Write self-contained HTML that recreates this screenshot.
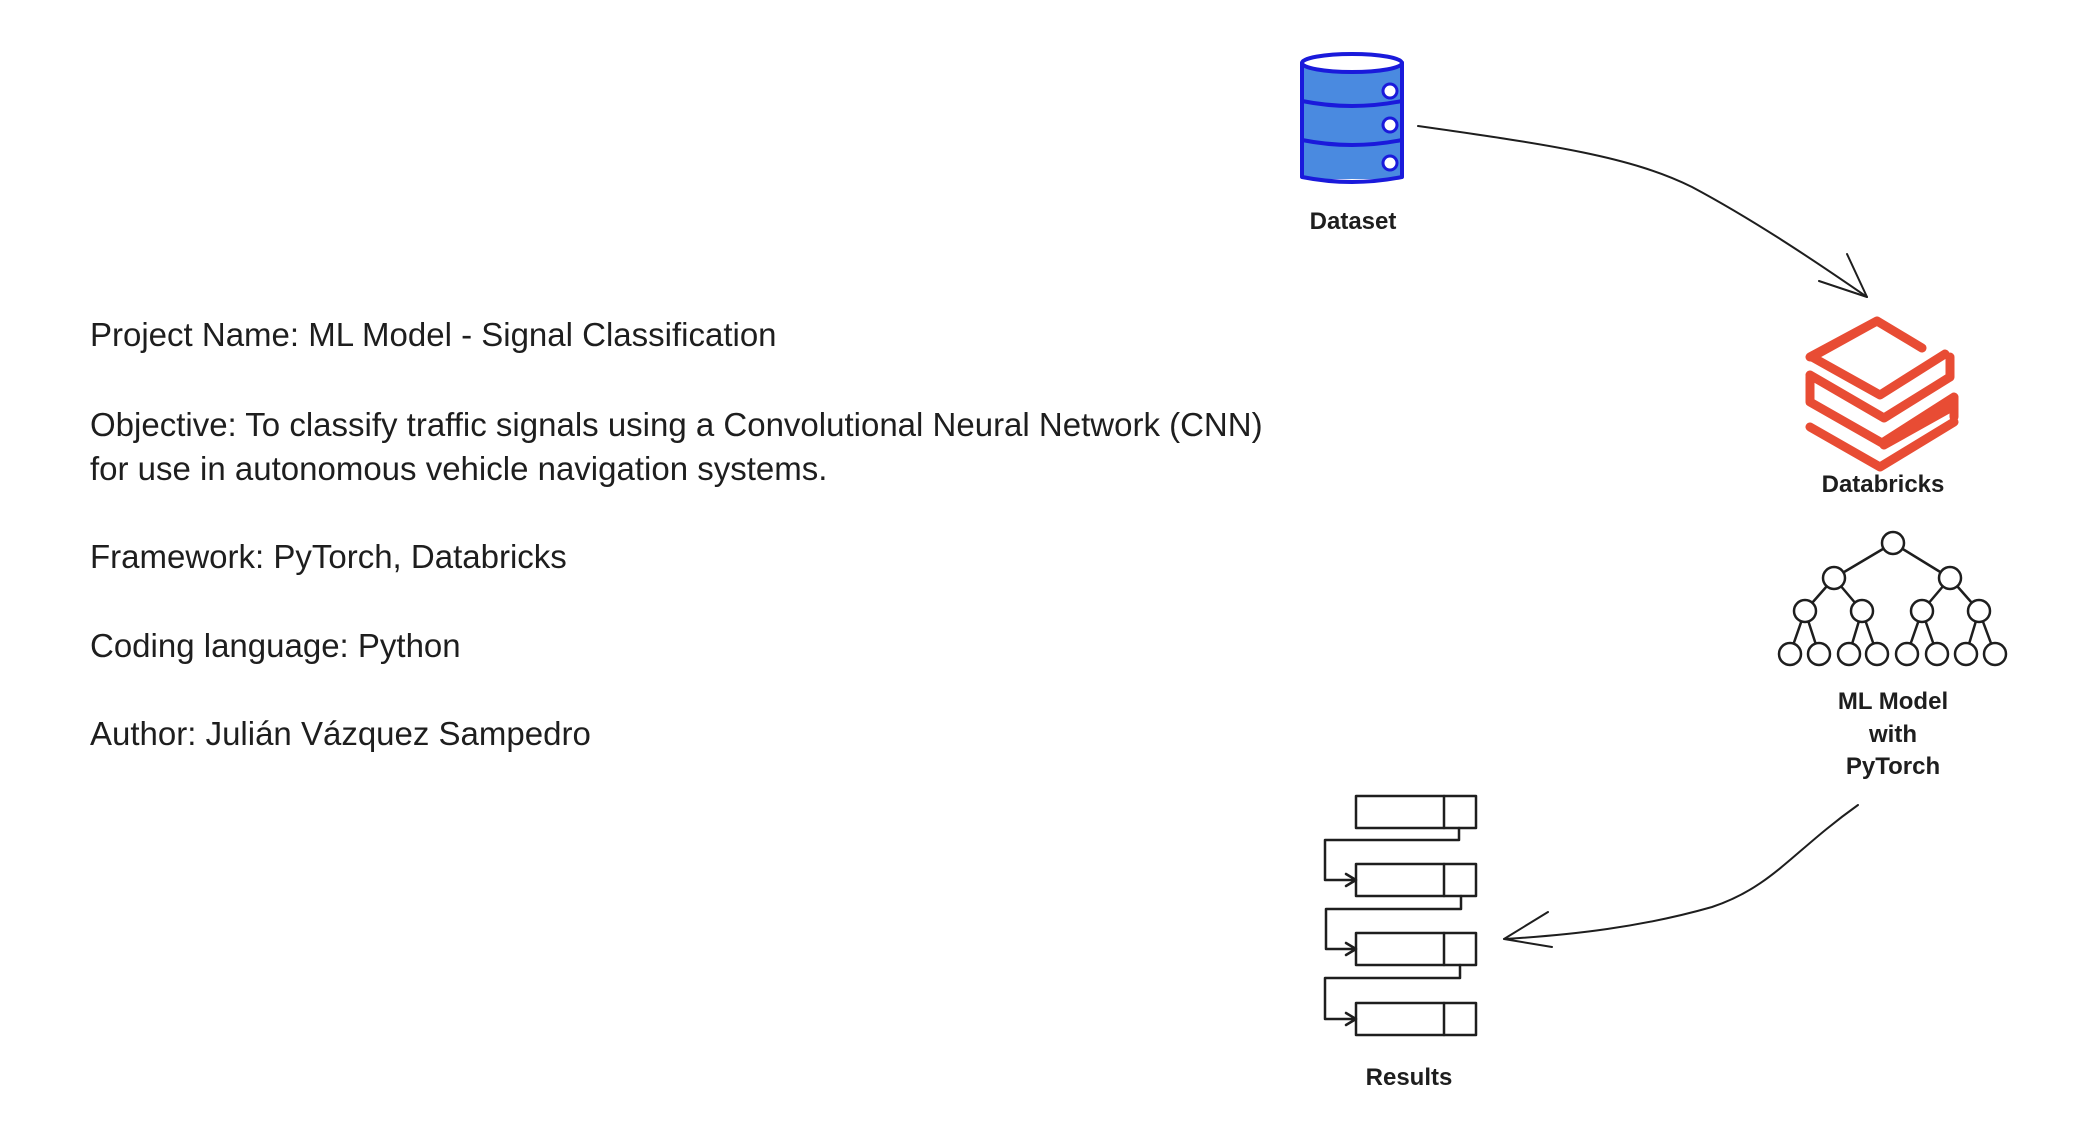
<!DOCTYPE html>
<html><head><meta charset="utf-8"><style>
html,body{margin:0;padding:0;background:#fff;width:2078px;height:1144px;overflow:hidden}
.t{position:absolute;left:90px;font-family:"Liberation Sans",sans-serif;font-size:33px;color:#1e1e1e;line-height:44px;white-space:nowrap}
svg{position:absolute;left:0;top:0}
</style></head><body>
<div class="t" style="top:313px">Project Name: ML Model - Signal Classification</div>
<div class="t" style="top:403px">Objective: To classify traffic signals using a Convolutional Neural Network (CNN)<br>for use in autonomous vehicle navigation systems.</div>
<div class="t" style="top:535px">Framework: PyTorch, Databricks</div>
<div class="t" style="top:624px">Coding language: Python</div>
<div class="t" style="top:712px">Author: Julián Vázquez Sampedro</div>
<svg width="2078" height="1144" viewBox="0 0 2078 1144" font-family="Liberation Sans, sans-serif" fill="none" stroke-linecap="round" stroke-linejoin="round">
<g transform="translate(-8,-3)">
<!-- database -->
<rect x="1310" y="66" width="100" height="116" fill="#4a8ae0"/>
<ellipse cx="1360" cy="66" rx="50" ry="9" fill="#fff" stroke="#1a1adb" stroke-width="4"/>
<path d="M1310 66 V180 Q1360 190 1410 180 V66" stroke="#1a1adb" stroke-width="4"/>
<path d="M1310 104 Q1360 114 1410 104 M1310 143 Q1360 153 1410 143" stroke="#1a1adb" stroke-width="4"/>
<circle cx="1398" cy="94" r="7" fill="#fff" stroke="#1a1adb" stroke-width="3"/>
<circle cx="1398" cy="128" r="7" fill="#fff" stroke="#1a1adb" stroke-width="3"/>
<circle cx="1398" cy="166" r="7" fill="#fff" stroke="#1a1adb" stroke-width="3"/>
<text x="1361" y="232" font-size="24" fill="#1e1e1e" text-anchor="middle" font-weight="bold">Dataset</text>
<!-- arrow 1 -->
<path d="M1426 129 C1560 148 1640 160 1700 190 C1760 222 1820 262 1875 300" stroke="#1e1e1e" stroke-width="2"/>
<path d="M1827 284 L1875 300 L1855 257" stroke="#1e1e1e" stroke-width="2"/>
<!-- databricks -->
<g stroke="#e84c34" stroke-width="9">
<path d="M1818 360 L1885 324 L1930 351 M1885 324 L1820 360 L1888 398 L1953 357"/>
<path d="M1818 378 L1892 421 L1958 380 L1958 360"/>
<path d="M1818 380 V405 L1890 446 L1962 400 V420"/>
<path d="M1818 430 L1888 470 L1962 425 M1892 448 L1960 410"/>
</g>
<text x="1891" y="495" font-size="24" fill="#1e1e1e" text-anchor="middle" font-weight="bold">Databricks</text>
<!-- tree -->
<g stroke="#1e1e1e" stroke-width="2.5" fill="#fff">
<path d="M1901 546 L1842 581 M1901 546 L1958 581 M1842 581 L1813 614 M1842 581 L1870 614 M1958 581 L1930 614 M1958 581 L1987 614 M1813 614 L1798 657 M1813 614 L1827 657 M1870 614 L1857 657 M1870 614 L1885 657 M1930 614 L1915 657 M1930 614 L1945 657 M1987 614 L1974 657 M1987 614 L2003 657"/>
<circle cx="1901" cy="546" r="11"/>
<circle cx="1842" cy="581" r="11"/><circle cx="1958" cy="581" r="11"/>
<circle cx="1813" cy="614" r="11"/><circle cx="1870" cy="614" r="11"/><circle cx="1930" cy="614" r="11"/><circle cx="1987" cy="614" r="11"/>
<circle cx="1798" cy="657" r="11"/><circle cx="1827" cy="657" r="11"/><circle cx="1857" cy="657" r="11"/><circle cx="1885" cy="657" r="11"/><circle cx="1915" cy="657" r="11"/><circle cx="1945" cy="657" r="11"/><circle cx="1974" cy="657" r="11"/><circle cx="2003" cy="657" r="11"/>
</g>
<g font-size="24" fill="#1e1e1e" text-anchor="middle" font-weight="bold">
<text x="1901" y="712">ML Model</text><text x="1901" y="745">with</text><text x="1901" y="777">PyTorch</text>
</g>
<!-- arrow 2 -->
<path d="M1866 808 C1800 855 1780 890 1720 910 C1650 930 1580 938 1512 942" stroke="#1e1e1e" stroke-width="2"/>
<path d="M1556 915 L1512 942 L1560 950" stroke="#1e1e1e" stroke-width="2"/>
<!-- results -->
<g stroke="#1e1e1e" stroke-width="2.5">
<rect x="1364" y="799" width="120" height="32"/><path d="M1452 799 V831"/>
<rect x="1364" y="867" width="120" height="32"/><path d="M1452 867 V899"/>
<rect x="1364" y="936" width="120" height="32"/><path d="M1452 936 V968"/>
<rect x="1364" y="1006" width="120" height="32"/><path d="M1452 1006 V1038"/>
<path d="M1467 831 V843 H1333 V883 H1364 M1354 877 L1364 883 L1354 889"/>
<path d="M1469 899 V912 H1334 V952 H1364 M1354 946 L1364 952 L1354 958"/>
<path d="M1468 968 V981 H1333 V1022 H1364 M1354 1016 L1364 1022 L1354 1028"/>
</g>
<text x="1417" y="1088" font-size="24" fill="#1e1e1e" text-anchor="middle" font-weight="bold">Results</text>
</g>
</svg>
</body></html>
